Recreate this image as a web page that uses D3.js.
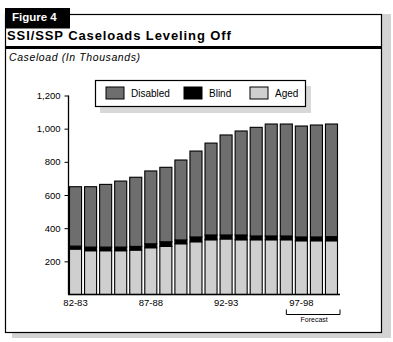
<!DOCTYPE html>
<html><head><meta charset="utf-8">
<script src="https://cdn.jsdelivr.net/npm/d3@7"></script>
<style>body{margin:0;background:#fff}svg{display:block}text{font-family:"Liberation Sans",Arial,sans-serif}</style>
</head><body>
<script>
const years = ["82-83","83-84","84-85","85-86","86-87","87-88","88-89","89-90","90-91","91-92","92-93","93-94","94-95","95-96","96-97","97-98","98-99","99-00"];
const aged     = [274,264,264,264,268,282,290,306,318,330,335,330,330,330,330,324,324,324];
const blind    = [18,22,22,22,22,24,28,23,29,29,24,29,23,23,23,23,23,25];
const disabled = [358,364,378,398,417,439,449,482,518,554,603,627,655,675,675,669,675,679];
const yTicks = [200,400,600,800,1000,1200];
const xLabels = ["82-83","87-88","92-93","97-98"];
const seriesKeys = ["aged","blind","disabled"];
const colors = {aged:"#cfcfcf", blind:"#000000", disabled:"#6e6e6e"};
const legendItems = [{k:"disabled",label:"Disabled"},{k:"blind",label:"Blind"},{k:"aged",label:"Aged"}];

const W=393,H=342;
const svg=d3.select("body").append("svg").attr("width",W).attr("height",H);

// frame shadow + frame
svg.append("rect").attr("x",12).attr("y",14).attr("width",379).attr("height",324).attr("fill","#d3d3d3");
svg.append("rect").attr("x",5.5).attr("y",14.5).attr("width",376).attr("height",318).attr("fill","#fff").attr("stroke","#000").attr("stroke-width",1.2);
svg.append("rect").attr("x",5).attr("y",8).attr("width",65).attr("height",20.5).attr("fill","#000");
svg.append("text").attr("x",12).attr("y",20.5).attr("fill","#fff").attr("font-weight","bold").attr("font-size",11.5).text("Figure 4");
svg.append("text").attr("x",7).attr("y",40).attr("font-weight","bold").attr("font-size",13).attr("letter-spacing",0.9).text("SSI/SSP Caseloads Leveling Off");
svg.append("rect").attr("x",5).attr("y",46).attr("width",377).attr("height",3).attr("fill","#000");
svg.append("text").attr("x",9).attr("y",61).attr("font-style","italic").attr("font-size",10.5).attr("letter-spacing",0.6).text("Caseload (In Thousands)");

const data = years.map((y,i)=>({year:y,aged:aged[i],blind:blind[i],disabled:disabled[i]}));
const stack = d3.stack().keys(seriesKeys)(data);

const x=d3.scaleBand().domain(years).range([68,339]).paddingInner(0.2).paddingOuter(0.1);
const y=d3.scaleLinear().domain([0,1200]).range([294.5,95.5]);

const g=svg.append("g");
stack.forEach(s=>{
  g.selectAll(null).data(s).join("rect")
   .attr("x",d=>x(d.data.year)).attr("width",x.bandwidth())
   .attr("y",d=>y(d[1])).attr("height",d=>y(d[0])-y(d[1]))
   .attr("fill",colors[s.key]).attr("stroke","#000").attr("stroke-width",1.1);
});

// axes
const ya=svg.append("g").attr("transform","translate(68.5,0)")
  .call(d3.axisLeft(y).tickValues(yTicks).tickSize(4).tickPadding(4).tickFormat(d3.format(",")));
ya.select(".domain").attr("d","M0,95.5V294.5").attr("stroke-width",1.3);
ya.selectAll("text").attr("font-size",9.5).attr("font-family","Liberation Sans,Arial,sans-serif");
const xa=svg.append("g").attr("transform","translate(0,294.5)")
  .call(d3.axisBottom(x).tickValues(xLabels).tickSize(0).tickPadding(5));
xa.select(".domain").attr("d","M68,0H340").attr("stroke-width",1.5);
xa.selectAll("text").attr("font-size",9.5).attr("font-family","Liberation Sans,Arial,sans-serif");

// forecast bracket
const fx0=x("97-98")-9, fx1=340;
svg.append("path").attr("d",`M${fx0},309.5V314.5H${fx1}V309.5`).attr("fill","none").attr("stroke","#000").attr("stroke-width",1);
svg.append("text").attr("x",(fx0+fx1)/2+1).attr("y",321.5).attr("text-anchor","middle").attr("font-size",7).text("Forecast");

// legend
svg.append("rect").attr("x",100).attr("y",86).attr("width",211).attr("height",27).attr("fill","#d8d8d8");
svg.append("rect").attr("x",95.5).attr("y",80.5).attr("width",210).attr("height",26).attr("fill","#fff").attr("stroke","#000").attr("stroke-width",1.2);
const lx=[106,184,250];
legendItems.forEach((it,i)=>{
  svg.append("rect").attr("x",lx[i]).attr("y",87).attr("width",18).attr("height",12).attr("fill",colors[it.k]).attr("stroke","#000").attr("stroke-width",1);
  svg.append("text").attr("x",lx[i]+25).attr("y",97).attr("font-size",10).text(it.label);
});
</script>
</body></html>
